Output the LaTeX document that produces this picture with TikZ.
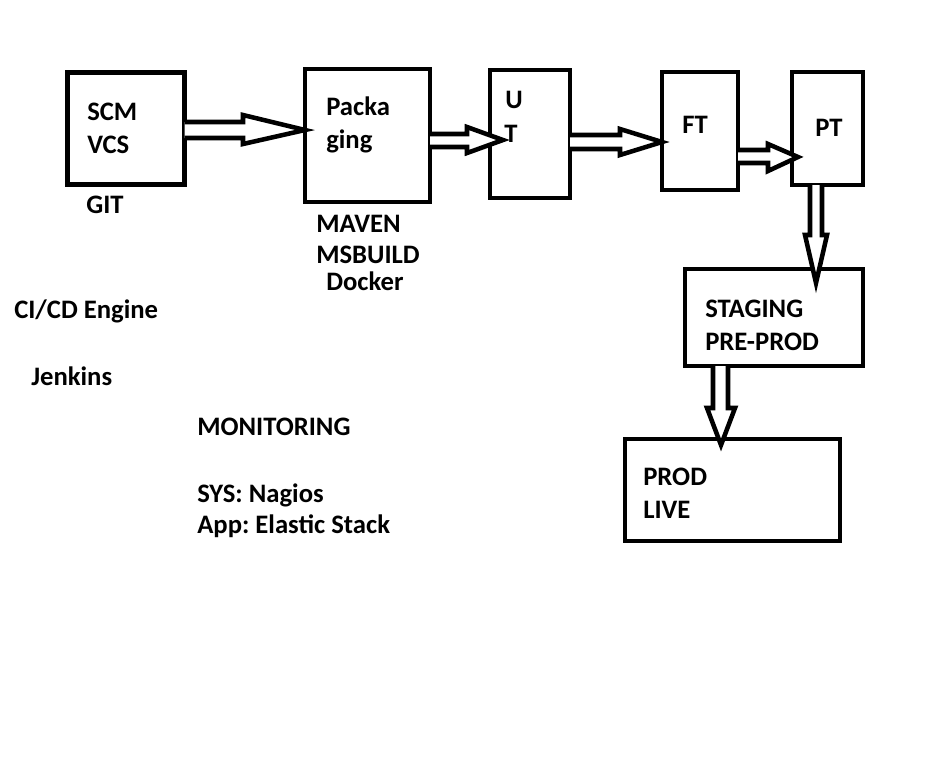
\documentclass[tikz,border=0pt]{standalone}
\usepackage{fontspec}
\setmainfont{Carlito}
\frenchspacing
\begin{document}
\begin{tikzpicture}[x=0.75pt,y=-0.75pt,
  box/.style={draw=black,line width=3.4pt,inner sep=0pt,outer sep=0pt,fill=none},
  lbl/.style={anchor=base west,inner sep=0pt,font=\fontsize{20pt}{24pt}\selectfont\bfseries},
  blockarrow/.style={draw=black,line width=3.4pt,line join=miter,fill=white}]
\useasboundingbox[fill=white] (0,0) rectangle (941,765);
% boxes (centre, size of centre line)
\node[box,minimum width=117*0.75pt,minimum height=112*0.75pt] (scm) at (126,128.5) {};
\node[box,minimum width=125*0.75pt,minimum height=133*0.75pt] (pkg) at (367.5,135.5) {};
\node[box,minimum width=80*0.75pt,minimum height=128*0.75pt] (ut) at (530,134) {};
\node[box,minimum width=76*0.75pt,minimum height=118*0.75pt] (ft) at (700,131) {};
\node[box,minimum width=71*0.75pt,minimum height=113*0.75pt] (pt) at (827.5,128.5) {};
\node[box,minimum width=178*0.75pt,minimum height=97*0.75pt] (stg) at (774,317.5) {};
\node[box,minimum width=215*0.75pt,minimum height=102*0.75pt] (prod) at (732.5,490) {};
% labels
\node[lbl] (t1) at (87,120) {SCM};
\node[lbl] (t2) at (87,153) {VCS};
\node[lbl] (t3) at (86,213) {GIT};
\node[lbl] (t4) at (326,115) {Packa};
\node[lbl] (t5) at (326,148) {ging};
\node[lbl] (t6) at (316,232) {MAVEN};
\node[lbl] (t7) at (316,263) {MSBUILD};
\node[lbl] (t8) at (326,290) {Docker};
\node[lbl] (t9) at (505,108) {U};
\node[lbl] (t10) at (504,142) {T};
\node[lbl] (t11) at (682,133) {FT};
\node[lbl] (t12) at (815,136) {PT};
\node[lbl] (t13) at (705,317) {STAGING};
\node[lbl] (t14) at (705,350) {PRE-PROD};
\node[lbl] (t15) at (643,485) {PROD};
\node[lbl] (t16) at (643,518) {LIVE};
\node[lbl] (t17) at (14,318) {CI/CD Engine};
\node[lbl] (t18) at (31,385) {Jenkins};
\node[lbl] (t19) at (197,435) {MONITORING};
\node[lbl] (t20) at (197,502) {SYS: Nagios};
\node[lbl] (t21) at (197,533) {App: Elastic Stack};
% hollow block arrows
\draw[blockarrow] (scm.east |- 0,122) -- (243,122) -- (243,115) -- (pkg.west |- 0,130)
  -- (243,144) -- (243,138) -- (scm.east |- 0,138);
\draw[blockarrow] (pkg.east |- 0,134) -- (467,134) -- (467,127) -- (503,140)
  -- (467,153) -- (467,147) -- (pkg.east |- 0,147);
\draw[blockarrow] (ut.east |- 0,135) -- (620,135) -- (620,129) -- (ft.west |- 0,142)
  -- (620,155) -- (620,149) -- (ut.east |- 0,149);
\draw[blockarrow] (ft.east |- 0,150) -- (768,150) -- (768,144) -- (798,157)
  -- (768,171) -- (768,163) -- (ft.east |- 0,163);
\draw[blockarrow] (pt.south -| 810,0) -- (810,235) -- (805,235) -- (816,283)
  -- (827,235) -- (822,235) -- (pt.south -| 822,0);
\draw[blockarrow] (stg.south -| 713,0) -- (713,408) -- (707,408) -- (721,445)
  -- (735,408) -- (728,408) -- (stg.south -| 728,0);
\end{tikzpicture}
\end{document}
